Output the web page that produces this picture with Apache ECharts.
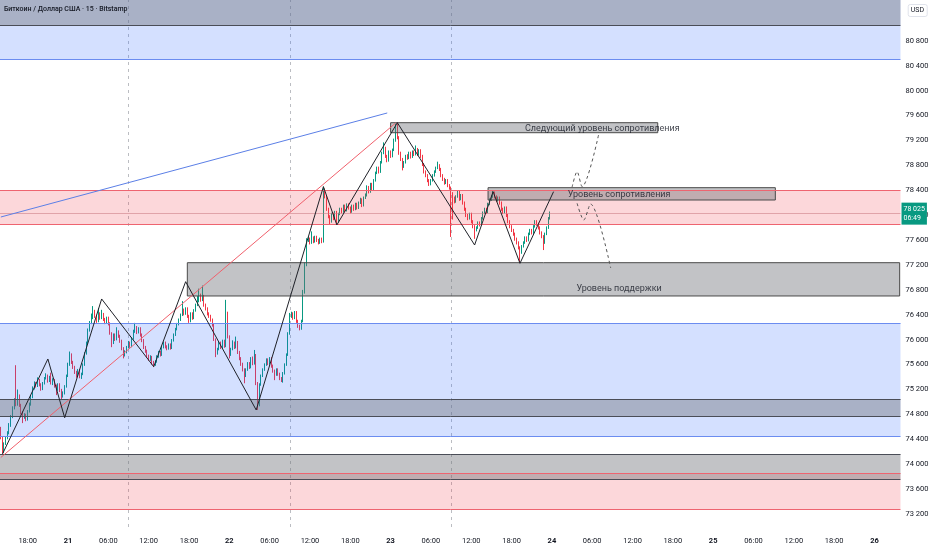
<!DOCTYPE html>
<html><head><meta charset="utf-8">
<script src="https://cdn.jsdelivr.net/npm/echarts@6/dist/echarts.min.js"></script>
<style>html,body{margin:0;padding:0;background:#fff}#c{width:932px;height:550px}</style>
</head><body><div id="c"></div>
<script>
// ---- DATA ----
const firstOpen = 74560;
const closes = [
74420,74200,74330,74420,74500,74620,74760,74900,75010,74960,
75100,74950,74830,74760,74790,74720,74850,74960,75080,75220,
75300,75260,75350,75280,75210,75300,75380,75420,75340,75400,
75300,75350,75260,75200,75280,75190,75100,75140,75250,75420,
75600,75760,75640,75560,75480,75420,75510,75400,75450,75600,
75780,75950,76150,76280,76350,76460,76380,76300,76420,76350,
76410,76330,76280,76350,76260,76100,75950,76080,76010,76130,
76060,75980,75860,75750,75800,75880,75950,75900,76020,76130,
76200,76120,76180,76080,75990,75880,75820,75740,75690,75720,
75630,75600,75650,75730,75800,75760,75880,75950,75890,75860,
75920,75870,75990,76080,76170,76250,76320,76400,76480,76420,
76500,76380,76300,76420,76350,76470,76560,76620,76720,76640,
76700,76560,76500,76420,76380,76320,76240,76000,75780,75850,
75950,75880,75980,75900,76420,76050,75760,75850,75950,75880,
75960,75800,75700,75610,75520,75420,75520,75620,75560,75700,
75620,75750,75300,74950,75280,75420,75520,75600,75680,75620,
75700,75580,75500,75440,75520,75450,75380,75330,75460,75600,
75760,76100,76380,76420,76350,76440,76300,76220,76180,76300,
76760,77200,77600,77620,77560,77640,77580,77650,77600,77560,
77620,77580,78400,78300,78100,77980,77900,78020,77950,78050,
77900,78020,78100,78060,78150,78080,78170,78120,78060,78150,
78100,78180,78120,78200,78250,78160,78280,78320,78450,78380,
78500,78420,78560,78680,78760,78700,78850,79000,79080,78950,
78880,79020,78950,79050,79200,79420,79250,79000,78900,78780,
78850,78950,78920,79000,78940,79020,78980,79060,78980,79040,
78950,78820,78700,78640,78560,78500,78560,78640,78700,78760,
78800,78740,78640,78580,78520,78560,78480,78440,78350,78280,
78220,78300,78380,78260,78320,78200,78100,78000,77950,78020,
77900,77820,77760,77800,77880,77850,77950,78040,78100,78050,
78180,78250,78300,78360,78300,78240,78280,78200,78100,78050,
78120,78000,77900,77820,77760,77700,77620,77560,77480,77400,
77500,77560,77640,77600,77700,77760,77720,77820,77900,77860,
77800,77720,77660,77560,77700,77800,77950,78025];
const lows = [
74400,74170,74180,74310,74400,74480,74600,74740,74880,74930,
74940,74920,74800,74660,74730,74690,74700,74830,74940,75060,
75200,75230,75240,75250,75180,75190,75280,75360,75310,75320,
75280,75270,75230,75110,75180,75160,75030,75070,75120,75230,
75400,75580,75610,75530,75450,75390,75400,75380,75370,75430,
75580,75760,75930,76130,76250,76330,76350,76270,76280,76320,
76330,76300,76250,76260,76230,76080,75880,75930,75980,75990,
76030,75950,75830,75700,75730,75780,75860,75870,75880,76000,
76110,76090,76100,76050,75960,75850,75790,75710,75660,75660,
75600,75560,75580,75630,75710,75730,75740,75860,75860,75830,
75840,75840,75850,75970,76060,76150,76230,76300,76380,76390,
76400,76350,76270,76280,76320,76330,76450,76540,76600,76610,
76620,76530,76470,76390,76350,76290,76210,75980,75720,75760,
75830,75850,75860,75870,75880,76020,75700,75740,75830,75850,
75860,75770,75670,75580,75490,75300,75400,75500,75530,75540,
75590,75600,75270,74870,74930,75260,75400,75500,75580,75590,
75600,75550,75470,75350,75420,75420,75350,75320,75310,75440,
75580,75740,76080,76350,76320,76330,76270,76190,76150,76160,
76280,76740,77180,77570,77530,77540,77550,77560,77570,77530,
77540,77550,77560,78270,78070,77950,77850,77880,77920,77930,
77843,77880,78000,78030,78040,78050,78060,78090,78030,78040,
78070,78080,78090,78100,78180,78130,78140,78260,78300,78350,
78360,78390,78400,78540,78660,78670,78680,78830,78980,78920,
78850,78860,78920,78930,79030,79180,79220,78970,78870,78720,
78760,78830,78890,78900,78910,78920,78950,78960,78950,78960,
78920,78790,78670,78610,78530,78470,78480,78540,78620,78680,
78740,78710,78610,78550,78490,78500,78450,78410,77650,77930,
78190,78200,78280,78230,78240,78170,78070,77970,77920,77930,
77870,77790,77620,77740,77780,77820,77830,77930,78020,78020,
78030,78160,78230,78280,78270,78210,78220,78170,78070,78020,
78030,77970,77870,77790,77730,77670,77590,77530,77450,77235,
77380,77480,77540,77570,77580,77680,77690,77700,77800,77830,
77770,77690,77630,77440,77540,77680,77780,77930];
const highs = [
74600,74440,74350,74450,74530,74660,74790,74930,75060,75590,
75200,75120,74970,74850,74820,74810,74870,74990,75110,75250,
75330,75320,75395,75370,75300,75320,75400,75460,75440,75420,
75470,75380,75370,75280,75300,75300,75210,75170,75270,75440,
75630,75810,75780,75660,75580,75500,75530,75530,75470,75620,
75800,75970,76180,76300,76420,76540,76480,76400,76510,76440,
76480,76430,76350,76370,76370,76280,76120,76100,76100,76200,
76150,76080,76000,75880,75830,75900,75980,75970,76040,76160,
76270,76220,76200,76200,76100,76010,75900,75840,75760,75750,
75740,75660,75670,75750,75820,75820,75900,75970,75970,75910,
75940,75940,76010,76100,76190,76270,76340,76420,76620,76500,
76520,76520,76400,76440,76440,76490,76580,76700,76820,76740,
76870,76720,76580,76520,76440,76400,76340,76260,76020,75870,
75970,75970,76000,76000,76640,76450,76070,75870,75990,75970,
76050,75980,75820,75720,75630,75540,75540,75640,75640,75720,
75730,75835,75770,75320,75300,75440,75540,75620,75700,75700,
75720,75720,75600,75520,75540,75540,75470,75400,75480,75620,
75780,76120,76430,76450,76440,76460,76460,76320,76240,76320,
76800,77240,77630,77660,77640,77740,77660,77670,77670,77620,
77640,77640,78460,78430,78320,78120,78000,78040,78040,78070,
78070,78040,78120,78120,78170,78170,78190,78190,78140,78170,
78170,78200,78200,78220,78280,78270,78300,78350,78480,78470,
78520,78520,78580,78700,78780,78780,78870,79020,79170,79100,
78970,79040,79040,79070,79230,79470,79490,79270,79020,78920,
78870,78970,78980,79020,79020,79040,79040,79120,79080,79060,
79060,78970,78840,78720,78660,78580,78580,78660,78720,78780,
78860,78820,78760,78660,78600,78580,78580,78500,78460,78370,
78300,78320,78400,78400,78340,78340,78220,78120,78020,78040,
78040,77920,77840,77820,77900,77900,77970,78060,78120,78120,
78200,78270,78320,78400,78380,78320,78300,78300,78220,78120,
78140,78140,78020,77920,77840,77780,77720,77640,77580,77500,
77520,77580,77660,77660,77720,77780,77780,77840,77920,77920,
77880,77820,77740,77680,77720,77820,77970,78060];

const priceTicks = [73200,73600,74000,74400,74800,75200,75600,76000,76400,76800,77200,77600,78000,78400,78800,79200,79600,80000,80400,80800];
const priceMin = 72991, priceMax = 81457;
const lastPrice = 78025, lastPriceText = '78 025', countdown = '06:49';

const zigzag = [['20 14:15',74164],['20 21:00',75690],['20 23:30',74747],['21 05:00',76654],['21 12:45',75566],['21 17:30',76932],['22 04:00',74871],['22 14:00',78458],['22 16:00',77843],['23 01:00',79486],['23 12:30',77521],['23 15:15',78378],['23 19:15',77227],['24 00:15',78378]];
const redTrend = [['20 14:00',74108],['23 00:45',79481]];
const blueTrend = [['20 14:00',77971],['22 23:30',79642]];
const projUp = [['24 03:00',78448],['24 03:45',78699],['24 04:30',78458],['24 07:00',79316]];
const projDown = [['24 03:45',78191],['24 04:45',77923],['24 05:45',78180],['24 08:45',77152]];

const blueZones = [[80509,81457],[74442,76268]];
const pinkZones = [[77854,78405],[73281,73859]];
const grayBands = [[81055,81457],[74763,75043],[73763,74164]];
const boxFrom = ['23 00:00','23 14:30','21 17:45'];
const boxTo = ['24 15:45','25 09:15','26 03:45'];
const boxLo = [79325,78244,76702];
const boxHi = [79486,78442,77237];
const blueLines = [80509,76268,74442];
const redLines = [78405,77854,73859,73281];
const darkLines = [81055,75043,74763,74164,73763];
const sessionBreaks = ['21 09:00','22 09:00','23 09:00'];
const noteX = ['24 07:30','24 10:00','24 10:00'];
const noteY = [79396,78336,76815];
const noteText = ['Следующий уровень сопротивления','Уровень сопротивления','Уровень поддержки'];

// time slots (15 min) from 20 14:00 to 26 04:00
const categories = [];
for (let i = 0; i < 536; i++) {
  const m = 14*60 + i*15;
  const d = 20 + Math.floor(m/1440);
  const hm = m % 1440;
  categories.push(d + ' ' + String(Math.floor(hm/60)).padStart(2,'0') + ':' + String(hm%60).padStart(2,'0'));
}
const candles = closes.map((c,i)=>{
  const o = i===0 ? firstOpen : closes[i-1];
  return [o, c, Math.min(lows[i],o,c), Math.max(highs[i],o,c)];
});

// ---- STYLE ----
const FONT = 'Roboto';
const blueFill = 'rgba(41,98,255,0.2)';
const pinkFill = 'rgba(242,54,69,0.2)';
const grayFill = 'rgba(110,112,120,0.42)';

const areaData = [];
blueZones.forEach(z=>areaData.push([{yAxis:z[0], itemStyle:{color:blueFill}},{yAxis:z[1]}]));
pinkZones.forEach(z=>areaData.push([{yAxis:z[0], itemStyle:{color:pinkFill}},{yAxis:z[1]}]));
grayBands.forEach(z=>areaData.push([{yAxis:z[0], itemStyle:{color:grayFill}},{yAxis:z[1]}]));
boxLo.forEach((lo,i)=>areaData.push([{xAxis:boxFrom[i], yAxis:lo, itemStyle:{color:grayFill, borderColor:'#4a4a4a', borderWidth:1}},{xAxis:boxTo[i], yAxis:boxHi[i]}]));

const lineData = [];
blueLines.forEach(v=>lineData.push({yAxis:v, lineStyle:{color:'#6b8cf0', width:1, type:'solid'}}));
redLines.forEach(v=>lineData.push({yAxis:v, lineStyle:{color:'#ee6470', width:1, type:'solid'}}));
darkLines.forEach(v=>lineData.push({yAxis:v, lineStyle:{color:'#4a4d57', width:1, type:'solid'}}));

const chart = echarts.init(document.getElementById('c'), null, {renderer:'canvas'});
chart.setOption({
  animation:false,
  backgroundColor:'#ffffff',
  title:[
    {text:'Биткоин / Доллар США · 15 · Bitstamp', left:4, top:6, padding:0, textStyle:{fontSize:7, fontWeight:500, color:'#131722', fontFamily:FONT}},
    {text:'USD', right:5, top:4, padding:[3,3], backgroundColor:'#ffffff', borderColor:'#e0e3eb', borderWidth:1, borderRadius:2, textStyle:{fontSize:7, fontWeight:'normal', color:'#131722', fontFamily:FONT}}
  ],
  grid:{left:0, right:31.5, top:0, bottom:23},
  xAxis:{
    type:'category', data:categories, boundaryGap:true,
    axisLine:{show:false}, axisTick:{show:false}, splitLine:{show:false},
    axisLabel:{
      interval:(i,v)=>{const p=v.split(' ')[1].split(':'); return p[1]==='00' && (+p[0])%6===0;},
      formatter:v=>{const p=v.split(' '); return p[1]==='00:00' ? '{d|'+p[0]+'}' : p[1];},
      color:'#131722', fontSize:7.5, margin:10, fontFamily:FONT, hideOverlap:false,
      rich:{d:{fontWeight:'bold', fontSize:7.5, color:'#131722', fontFamily:FONT}}
    }
  },
  yAxis:{
    type:'value', position:'right', min:priceMin, max:priceMax,
    axisLine:{show:false}, axisTick:{show:false}, splitLine:{show:false},
    axisLabel:{customValues:priceTicks, formatter:v=>String(v).replace(/(\d{2})(\d{3})$/,'$1 $2'), color:'#131722', fontSize:7.5, margin:5, fontFamily:FONT}
  },
  series:[
    {type:'line', data:[], z:0, silent:true,
     markLine:{z:1, silent:true, symbol:['none','none'], label:{show:false},
       lineStyle:{color:'rgba(120,123,134,0.5)', type:[3,4], width:1},
       data:sessionBreaks.map(c=>({xAxis:c}))}},
    {type:'candlestick', data:candles, z:1, large:false, barWidth:'65%',
     itemStyle:{color:'#089981', color0:'#f23645', borderColor:'#089981', borderColor0:'#f23645', borderWidth:1}},
    {type:'line', data:[], z:3, silent:true,
     markArea:{z:3, silent:true, label:{show:false}, data:areaData},
     markLine:{z:4, silent:true, symbol:['none','none'], label:{show:false}, data:lineData}},
    {type:'line', data:[], z:4, silent:true,
     markLine:{z:4, silent:true, symbol:['none','none'],
       lineStyle:{color:'rgba(200,120,130,0.55)', width:1, type:'solid'},
       label:{show:true, position:'end', distance:1, formatter:lastPriceText+'\n'+countdown, backgroundColor:'#089981', color:'#ffffff', fontSize:7, lineHeight:9, padding:[2,2,2,2], fontFamily:FONT},
       data:[{yAxis:lastPrice}]}},
    {type:'line', data:blueTrend, z:5, symbol:'none', silent:true, lineStyle:{color:'#5b7fe6', width:1}},
    {type:'line', data:redTrend, z:5, symbol:'none', silent:true, lineStyle:{color:'#f0606c', width:1}},
    {type:'line', data:zigzag, z:6, symbol:'none', silent:true, lineStyle:{color:'#1f2128', width:1}},
    {type:'line', data:projUp, z:6, symbol:'none', silent:true, smooth:0.3, lineStyle:{color:'#555', width:1, type:[3,3]}},
    {type:'line', data:projDown, z:6, symbol:'none', silent:true, smooth:0.3, lineStyle:{color:'#555', width:1, type:[3,3]}},
    {type:'scatter', z:7, silent:true, symbolSize:1, itemStyle:{color:'rgba(0,0,0,0)'},
     data:noteX.map((x,i)=>[x,noteY[i]]),
     label:{show:true, position:'inside', formatter:p=>noteText[p.dataIndex], color:'#131722', fontSize:9, fontFamily:FONT}}
  ]
});
</script>
</body></html>
